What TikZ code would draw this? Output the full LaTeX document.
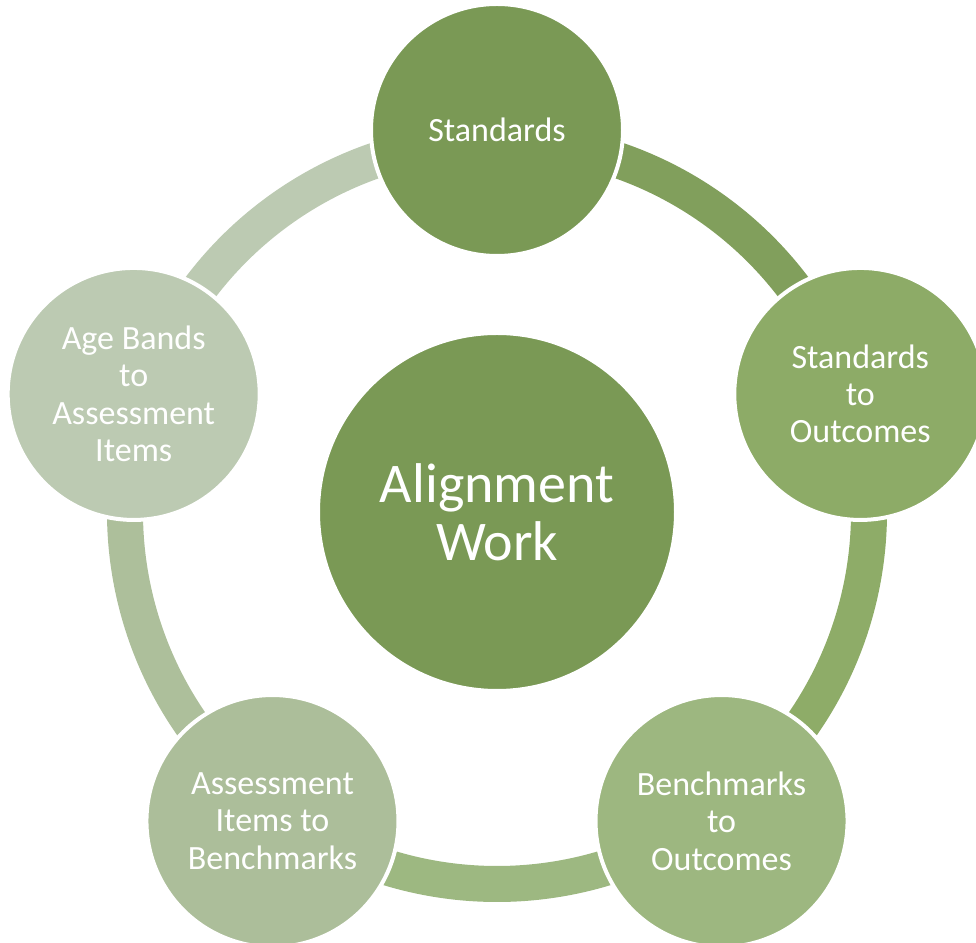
\documentclass[tikz,border=0pt]{standalone}
\usepackage{fontspec}
\setmainfont{Carlito}
\usetikzlibrary{calc}
\definecolor{cA}{HTML}{7A9955}
\definecolor{cB}{HTML}{8DAB67}
\definecolor{cC}{HTML}{9DB780}
\definecolor{cD}{HTML}{ACBE9A}
\definecolor{cE}{HTML}{BCCAB2}
\definecolor{aA}{HTML}{819F5C}
\definecolor{aB}{HTML}{8EAC68}
\definecolor{aC}{HTML}{9DB881}
\definecolor{aD}{HTML}{ADBF9B}
\definecolor{aE}{HTML}{BCCAB2}
\tikzset{
  outer/.style={circle, draw=white, line width=3pt, minimum size=189pt, inner sep=0pt,
    text=white, align=center, font=\fontsize{25.5}{28}\selectfont},
  hub/.style={circle, draw=white, line width=3pt, minimum size=268.5pt, inner sep=0pt,
    text=white, align=center, font=\fontsize{42}{43.5}\selectfont},
  ring/.style={line width=27pt}
}
\begin{document}
\begin{tikzpicture}[x=0.75pt,y=0.75pt]
\useasboundingbox (0,0) rectangle (976,943);
\clip (0,0) rectangle (976,943);
\coordinate (C) at (497,431);
% ring segments
\draw[ring, aA] ($(C)+(90:372)$) arc[start angle=90, end angle=18, radius=372];
\draw[ring, aB] ($(C)+(18:372)$) arc[start angle=18, end angle=-54, radius=372];
\draw[ring, aC] ($(C)+(-54:372)$) arc[start angle=-54, end angle=-126, radius=372];
\draw[ring, aD] ($(C)+(-126:372)$) arc[start angle=-126, end angle=-198, radius=372];
\draw[ring, aE] ($(C)+(162:372)$) arc[start angle=162, end angle=90, radius=372];
% circles
\node[hub, fill=cA] (hub) at (C) {Alignment\\Work};
\node[outer, fill=cA] (std) at ($(C)+(90:382)$) {Standards};
\node[outer, fill=cB] (so) at ($(C)+(18:382)$) {Standards\\to\\Outcomes};
\node[outer, fill=cC] (bo) at ($(C)+(-54:382)$) {Benchmarks\\to\\Outcomes};
\node[outer, fill=cD] (ab) at ($(C)+(-126:382)$) {Assessment\\Items to\\Benchmarks};
\node[outer, fill=cE] (ag) at ($(C)+(162:382)$) {Age Bands\\to\\Assessment\\Items};
\end{tikzpicture}
\end{document}
